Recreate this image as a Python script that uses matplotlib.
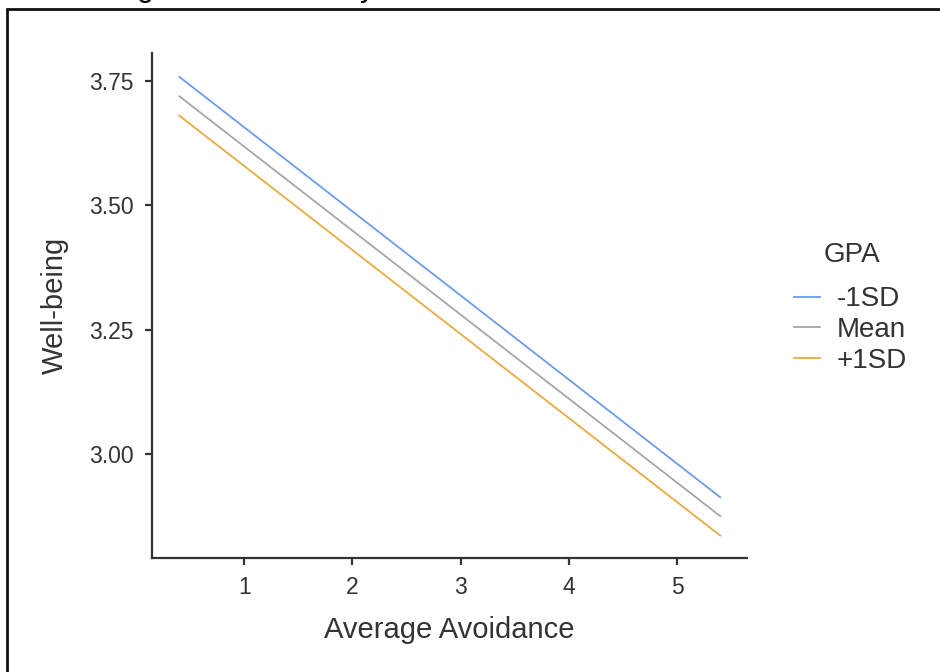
import matplotlib

matplotlib.use("Agg")
import matplotlib.pyplot as plt
from matplotlib.patches import Rectangle
from matplotlib.lines import Line2D

plt.rcParams["font.family"] = ["Liberation Sans", "DejaVu Sans"]

# simple slopes at -1SD / Mean / +1SD of GPA
x_range = [0.4, 5.4]
groups = ["-1SD", "Mean", "+1SD"]
y_start = [3.758, 3.719, 3.680]
y_end = [2.913, 2.875, 2.836]
colors = ["#6B9DE8", "#A6A6A6", "#E6AC40"]

y_ticks = [3.00, 3.25, 3.50, 3.75]
x_ticks = [1, 2, 3, 4, 5]

W, H = 940, 672
fig = plt.figure(figsize=(W / 100, H / 100), dpi=100)
ax = fig.add_axes([152 / W, 1 - 558 / H, (747 - 152) / W, (558 - 53) / H])

for g, y0, y1, c in zip(groups, y_start, y_end, colors):
    ax.plot(x_range, [y0, y1], color=c, linewidth=1.3, label=g)

ax.set_xlim(0.147, 5.647)
ax.set_ylim(2.791, 3.806)
ax.set_xticks(x_ticks)
ax.set_yticks(y_ticks)
ax.set_yticklabels([f"{v:.2f}" for v in y_ticks])

for side in ["top", "right"]:
    ax.spines[side].set_visible(False)
for side in ["left", "bottom"]:
    ax.spines[side].set_color("#333333")
    ax.spines[side].set_linewidth(1.6)
ax.tick_params(colors="#333333", width=1.6, length=5, labelsize=16.5,
               labelcolor="#333333", pad=8)

ax.set_xlabel("Average Avoidance", fontsize=21, color="#333333", labelpad=12)
ax.set_ylabel("Well-being", fontsize=21, color="#333333", labelpad=15)

handles = [Line2D([], [], color=c, linewidth=1.3) for c in colors]
leg = fig.legend(handles, groups, loc="center left",
                 bbox_to_anchor=(769 / W, 1 - 330 / H), frameon=False,
                 fontsize=20, handlelength=0.94,
                 handletextpad=0.6, labelspacing=0.165)
for t in leg.get_texts():
    t.set_color("#333333")
fig.text(851.5 / W, 1 - 255 / H, "GPA", fontsize=20, color="#333333",
         ha="center", va="center")

# screenshot frame and cut-off text above it
fig.add_artist(Rectangle((7 / W, -0.1), 1.2, (H - 9) / H + 0.1,
                         transform=fig.transFigure, fill=False,
                         edgecolor="#111111", linewidth=2))
fig.text(137 / W, 1 + 4 / H, "g", fontsize=22, va="baseline", ha="left")
fig.text(343 / W, 1 + 4 / H, ", y", fontsize=22, va="baseline", ha="left")

fig.savefig("out.png", dpi=100)
